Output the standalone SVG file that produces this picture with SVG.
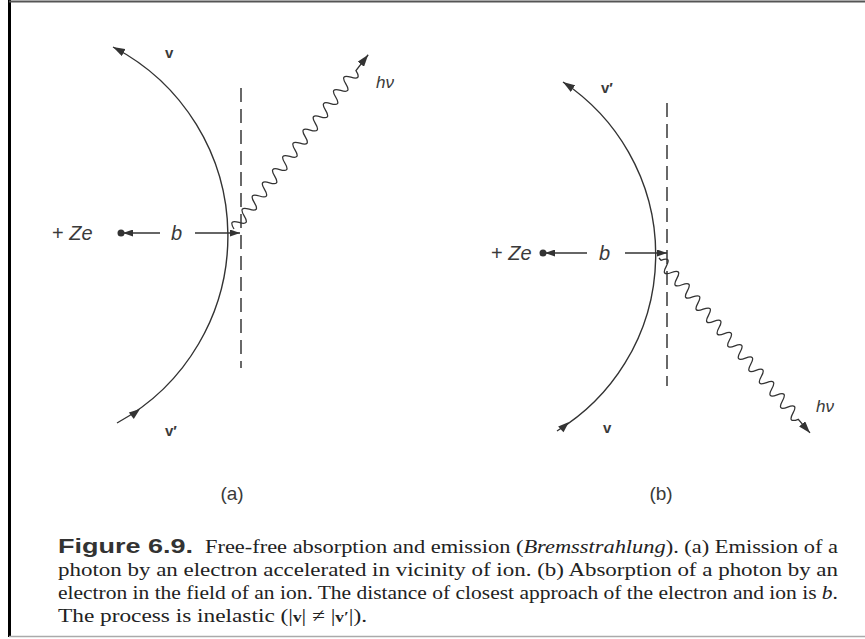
<svg xmlns="http://www.w3.org/2000/svg" width="865" height="639" viewBox="0 0 865 639">
<defs>
<style>
.ln{fill:none;stroke:#333;stroke-width:1.4}
.dash{fill:none;stroke:#444;stroke-width:1.6;stroke-dasharray:14 7}
.wave{fill:none;stroke:#333;stroke-width:1.3}
.lbl{font-family:"Liberation Sans",Arial,sans-serif;fill:#3a3a3a}
.it{font-style:italic}
.vb{font-family:"Liberation Sans",Arial,sans-serif;font-weight:bold;font-size:15px;fill:#3a3a3a}
.cap{font-family:"Liberation Serif","Times New Roman",serif;font-size:19px;fill:#222}
.fig{font-family:"Liberation Sans",Arial,sans-serif;font-weight:bold;font-size:20px;fill:#333}
</style>
<marker id="ah" viewBox="0 0 12 8" refX="12" refY="4" markerWidth="12" markerHeight="8" markerUnits="userSpaceOnUse" orient="auto">
<path d="M0,0 L12,4 L0,8 z" fill="#333"/>
</marker>
<marker id="ahs" viewBox="0 0 10 7" refX="10" refY="3.5" markerWidth="10" markerHeight="7" markerUnits="userSpaceOnUse" orient="auto">
<path d="M0,0 L10,3.5 L0,7 z" fill="#333"/>
</marker>
</defs>
<rect width="865" height="639" fill="#fff"/>
<g id="frame">
<line x1="9.5" y1="0" x2="9.5" y2="637" stroke="#000" stroke-width="3"/>
<line x1="9" y1="1.5" x2="865" y2="1.5" stroke="#555" stroke-width="2"/>
<line x1="9" y1="636.5" x2="865" y2="636.5" stroke="#aaa" stroke-width="1.5"/>
</g>

<g id="connectors">
<!-- panel a -->
<path id="traj-a" class="ln" d="M117,423 A213,213 0 0 0 113,47" marker-end="url(#ah)"/>
<polygon points="0,0 -11,-4 -11,4" fill="#333" transform="translate(140,409) rotate(-38)"/>
<line class="dash" x1="241" y1="88" x2="241" y2="368"/>
<line class="ln" x1="160" y1="233" x2="123" y2="233" marker-end="url(#ahs)"/>
<line class="ln" x1="195" y1="233" x2="240" y2="233" marker-end="url(#ahs)"/>
<path id="photon-a" class="wave" transform="translate(234,229) rotate(-52.4)" marker-end="url(#ah)" d="M0,0 q4.17,-11 8.33,0 t8.33,0 t8.33,0 t8.33,0 t8.33,0 t8.33,0 t8.33,0 t8.33,0 t8.33,0 t8.33,0 t8.33,0 t8.33,0 t8.33,0 t8.33,0 t8.33,0 t8.33,0 t8.33,0 t8.33,0 t8.33,0 t8.33,0 t8.33,0 t8.33,0 t8.33,0 t8.33,0 l20,0"/>
<!-- panel b -->
<path id="traj-b" class="ln" d="M557,431 A207,207 0 0 0 563,82" marker-end="url(#ah)"/>
<polygon points="0,0 -11,-4 -11,4" fill="#333" transform="translate(569,422) rotate(-42)"/>
<line class="dash" x1="667" y1="103" x2="667" y2="386"/>
<line class="ln" x1="587" y1="253" x2="545" y2="253" marker-end="url(#ahs)"/>
<line class="ln" x1="625" y1="253" x2="667" y2="253" marker-end="url(#ahs)"/>
<path id="photon-b" class="wave" transform="translate(659,258) rotate(49.2)" marker-end="url(#ah)" d="M0,0 l3,0 q4.04,-11 8.08,0 t8.08,0 t8.08,0 t8.08,0 t8.08,0 t8.08,0 t8.08,0 t8.08,0 t8.08,0 t8.08,0 t8.08,0 t8.08,0 t8.08,0 t8.08,0 t8.08,0 t8.08,0 t8.08,0 t8.08,0 t8.08,0 t8.08,0 t8.08,0 t8.08,0 t8.08,0 t8.08,0 t8.08,0 t8.08,0 l18,0"/>
</g>

<g id="ion-a">
<circle cx="121" cy="233" r="3.5" fill="#333"/>
<text class="lbl" x="52" y="240" font-size="20">+ <tspan class="it">Ze</tspan></text>
</g>
<g id="b-a"><text class="lbl it" x="171" y="240" font-size="20">b</text></g>
<g id="v-a"><text class="vb" x="165" y="58">v</text></g>
<g id="vp-a"><text class="vb" x="165" y="436">v′</text></g>
<g id="hv-a"><text class="lbl it" x="376" y="88" font-size="17">hν</text></g>
<g id="label-a"><text class="lbl" x="232" y="500" font-size="19" text-anchor="middle">(a)</text></g>

<g id="ion-b">
<circle cx="543" cy="253" r="3.5" fill="#333"/>
<text class="lbl" x="491" y="260" font-size="20">+ <tspan class="it">Ze</tspan></text>
</g>
<g id="b-b"><text class="lbl it" x="599" y="260" font-size="20">b</text></g>
<g id="vp-b"><text class="vb" x="601" y="93">v′</text></g>
<g id="v-b"><text class="vb" x="603" y="433">v</text></g>
<g id="hv-b"><text class="lbl it" x="816" y="412" font-size="17">hν</text></g>
<g id="label-b"><text class="lbl" x="661" y="500" font-size="19" text-anchor="middle">(b)</text></g>

<g id="caption">
<text class="fig" x="58" y="553" textLength="135" lengthAdjust="spacingAndGlyphs">Figure 6.9.</text>
<text class="cap" x="205" y="553" textLength="633" lengthAdjust="spacingAndGlyphs">Free-free absorption and emission (<tspan font-style="italic">Bremsstrahlung</tspan>). (a) Emission of a</text>
<text class="cap" x="58" y="576" textLength="780" lengthAdjust="spacingAndGlyphs">photon by an electron accelerated in vicinity of ion. (b) Absorption of a photon by an</text>
<text class="cap" x="58" y="599" textLength="780" lengthAdjust="spacingAndGlyphs">electron in the field of an ion. The distance of closest approach of the electron and ion is <tspan font-style="italic">b</tspan>.</text>
<text class="cap" x="58" y="622" textLength="309" lengthAdjust="spacingAndGlyphs">The process is inelastic (|<tspan font-weight="bold" font-size="14">v</tspan>| ≠ |<tspan font-weight="bold" font-size="14">v′</tspan>|).</text>
</g>
</svg>
